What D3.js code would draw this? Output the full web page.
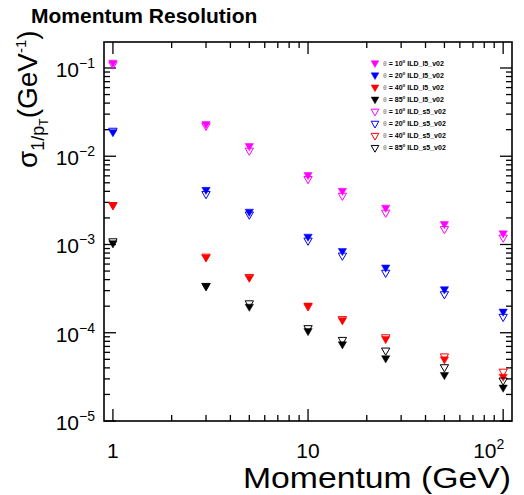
<!DOCTYPE html>
<html>
<head>
<meta charset="utf-8">
<script src="https://cdn.jsdelivr.net/npm/d3@7"></script>
<style>
  body { margin: 0; background: #fff; }
  text { font-family: "Liberation Sans", Arial, Helvetica, sans-serif; }
</style>
</head>
<body>
<div id="vis"></div>
<script>
const width = 524;
const height = 495;

// momentum points (GeV)
const momenta = [1, 3, 5, 10, 15, 25, 50, 100];

// sigma(1/pT) in GeV^-1
const theta10_l5 = [0.115, 0.0232, 0.0131, 0.00614, 0.00407, 0.00262, 0.00171, 0.00134];
const theta20_l5 = [0.0188, 0.00417, 0.00236, 0.00123, 0.000847, 0.00055, 0.000312, 0.000174];
const theta40_l5 = [0.00281, 0.000716, 0.000422, 0.000204, 0.000139, 0.0000853, 0.0000501, 0.0000319];
const theta85_l5 = [0.001035, 0.00034, 0.000198, 0.000105, 0.0000743, 0.0000515, 0.0000333, 0.000024];
const theta10_s5 = [0.110, 0.0222, 0.0116, 0.00553, 0.00358, 0.0023, 0.0015, 0.0012];
const theta20_s5 = [0.0195, 0.00374, 0.00219, 0.00111, 0.00075, 0.00048, 0.000274, 0.000152];
const theta40_s5 = [0.0028, 0.00073, 0.00043, 0.0002, 0.000143, 0.0000891, 0.0000541, 0.0000363];
const theta85_s5 = [0.00109, 0.00034, 0.000216, 0.000113, 0.0000832, 0.000063, 0.0000408, 0.0000288];

const colors = ['#ff00ff', '#0000ff', '#ff0000', '#000000'];

const series = [
  { angle: '10', model: 'ILD_l5_v02', filled: true, color: colors[0], values: theta10_l5 },
  { angle: '20', model: 'ILD_l5_v02', filled: true, color: colors[1], values: theta20_l5 },
  { angle: '40', model: 'ILD_l5_v02', filled: true, color: colors[2], values: theta40_l5 },
  { angle: '85', model: 'ILD_l5_v02', filled: true, color: colors[3], values: theta85_l5 },
  { angle: '10', model: 'ILD_s5_v02', filled: false, color: colors[0], values: theta10_s5 },
  { angle: '20', model: 'ILD_s5_v02', filled: false, color: colors[1], values: theta20_s5 },
  { angle: '40', model: 'ILD_s5_v02', filled: false, color: colors[2], values: theta40_s5 },
  { angle: '85', model: 'ILD_s5_v02', filled: false, color: colors[3], values: theta85_s5 }
];

const yMajor = [1e-5, 1e-4, 1e-3, 1e-2, 1e-1];
const yExponents = ['\u22125', '\u22124', '\u22123', '\u22122', '\u22121'];

const plot = { left: 104, right: 512, top: 42, bottom: 421 };

const x = d3.scaleLog().domain([0.9, 111]).range([plot.left, plot.right]);
const y = d3.scaleLog().domain([1e-5, 0.197]).range([plot.bottom, plot.top]);

const svg = d3.select('#vis').append('svg')
  .attr('width', width)
  .attr('height', height);

// title
svg.append('text')
  .attr('x', 31)
  .attr('y', 23)
  .attr('font-size', 21)
  .attr('font-weight', 'bold')
  .text('Momentum Resolution');

// ticks: minor + major on all four sides, pointing inward
function logTicks(lo, hi) {
  const out = [];
  for (let e = Math.floor(Math.log10(lo)); e <= Math.ceil(Math.log10(hi)); e++) {
    for (let m = 1; m < 10; m++) {
      const v = m * Math.pow(10, e);
      if (v >= lo && v <= hi) out.push({ v: v, major: m === 1 });
    }
  }
  return out;
}
const xt = logTicks(1, 111);
const yt = logTicks(1e-5, 0.197);
const ticks = svg.append('g').attr('stroke', '#000').attr('stroke-width', 1.3);
xt.forEach(t => {
  const len = t.major ? 12 : 6;
  ticks.append('line').attr('x1', x(t.v)).attr('x2', x(t.v))
    .attr('y1', plot.bottom).attr('y2', plot.bottom - len);
  ticks.append('line').attr('x1', x(t.v)).attr('x2', x(t.v))
    .attr('y1', plot.top).attr('y2', plot.top + len);
});
yt.forEach(t => {
  const len = t.major ? 12 : 6;
  ticks.append('line').attr('y1', y(t.v)).attr('y2', y(t.v))
    .attr('x1', plot.left).attr('x2', plot.left + len);
  ticks.append('line').attr('y1', y(t.v)).attr('y2', y(t.v))
    .attr('x1', plot.right).attr('x2', plot.right - len);
});

// frame
svg.append('rect')
  .attr('x', plot.left).attr('y', plot.top)
  .attr('width', plot.right - plot.left)
  .attr('height', plot.bottom - plot.top)
  .attr('fill', 'none')
  .attr('stroke', '#000')
  .attr('stroke-width', 1.6);

// y tick labels
yMajor.forEach((v, i) => {
  const t = svg.append('text')
    .attr('x', 95)
    .attr('y', y(v) + 9)
    .attr('text-anchor', 'end')
    .attr('font-size', 21);
  t.append('tspan').text('10');
  t.append('tspan').attr('font-size', 14).attr('dy', -9).text(yExponents[i]);
});

// x tick labels
svg.append('text').attr('x', x(1)).attr('y', 458)
  .attr('text-anchor', 'middle').attr('font-size', 21).text('1');
svg.append('text').attr('x', x(10)).attr('y', 458)
  .attr('text-anchor', 'middle').attr('font-size', 21).text('10');
const x100 = svg.append('text').attr('x', x(100) - 30).attr('y', 458)
  .attr('font-size', 21);
x100.append('tspan').text('10');
x100.append('tspan').attr('font-size', 14).attr('dy', -9).text('2');

// x axis title
svg.append('text')
  .attr('x', 511)
  .attr('y', 488)
  .attr('text-anchor', 'end')
  .attr('font-size', 30)
  .attr('textLength', 268)
  .attr('lengthAdjust', 'spacingAndGlyphs')
  .text('Momentum (GeV)');

// y axis title
const ytitle = svg.append('text')
  .attr('transform', 'translate(37,168) rotate(-90)')
  .attr('font-size', 28);
ytitle.append('tspan').text('\u03c3');
ytitle.append('tspan').attr('font-size', 18).attr('dy', 7).text('1/p');
ytitle.append('tspan').attr('font-size', 12).attr('dy', 4).text('T');
ytitle.append('tspan').attr('dy', -11).text('(GeV');
ytitle.append('tspan').attr('font-size', 15).attr('dy', -11).text('-1');
ytitle.append('tspan').attr('dy', 11).text(')');

// markers: downward triangles
const tri = d3.symbol().type(d3.symbolTriangle).size(30);
function drawSeries(s) {
  svg.append('g')
    .selectAll('path')
    .data(s.values.map((v, i) => ({ p: momenta[i], v: v })))
    .join('path')
    .attr('d', tri)
    .attr('transform', d => `translate(${x(d.p)},${y(d.v)}) rotate(180)`)
    .attr('fill', s.filled ? s.color : 'none')
    .attr('stroke', s.color)
    .attr('stroke-width', s.filled ? 0.5 : 1);
}
series.forEach(drawSeries);

// legend
const legend = svg.append('g');
series.forEach((s, i) => {
  const ly = 63 + i * 12.1;
  legend.append('path')
    .attr('d', d3.symbol().type(d3.symbolTriangle).size(26))
    .attr('transform', `translate(375,${ly}) rotate(180)`)
    .attr('fill', s.filled ? s.color : 'none')
    .attr('stroke', s.color)
    .attr('stroke-width', s.filled ? 0.5 : 1);
  const t = legend.append('text')
    .attr('x', 383)
    .attr('y', ly + 2.5)
    .attr('font-size', 7)
    .attr('font-weight', 'bold');
  t.append('tspan').attr('fill', '#999').text('\u03b8');
  t.append('tspan').text(' = ' + s.angle);
  t.append('tspan').attr('font-size', 4.5).attr('dy', -3).text('o');
  t.append('tspan').attr('dy', 3).text(' ' + s.model);
});
</script>
</body>
</html>
